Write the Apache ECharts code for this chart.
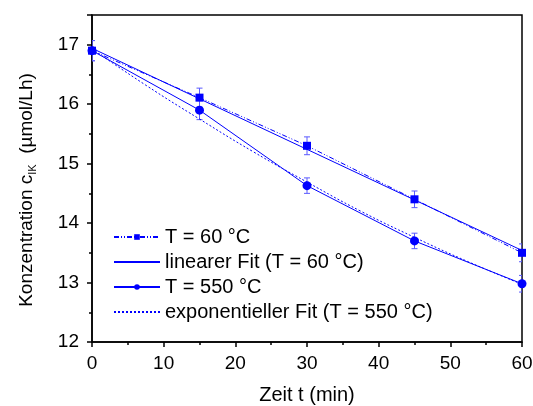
<!DOCTYPE html>
<html><head><meta charset="utf-8">
<script src="https://cdn.jsdelivr.net/npm/echarts@6/dist/echarts.min.js"></script>
<style>html,body{margin:0;padding:0;background:#fff}#c{width:533px;height:406px}</style>
</head><body><div id="c"></div>
<script>
const xTimes = [0, 15, 30, 45, 60];
const t60 = [16.90, 16.11, 15.30, 14.40, 13.50];
const t60Err = [0.17, 0.16, 0.15, 0.14, 0.15];
const t550 = [16.90, 15.90, 14.63, 13.70, 12.98];
const t550Err = [0.17, 0.16, 0.13, 0.13, 0.14];
const linFitX = [0, 60];
const linFitY = [16.94, 13.54];
const expFitX = [0, 7.5, 15, 22.5, 30, 37.5, 45, 52.5, 60];
const expFitY = [16.93, 16.32, 15.75, 15.20, 14.69, 14.20, 13.76, 13.35, 12.97];
const xTicks = [0, 10, 20, 30, 40, 50, 60];
const yTicks = [12, 13, 14, 15, 16, 17];

const blue = '#0000ff';
const errBlue = '#5a5aff';
const font = 'Arial, "Liberation Sans", sans-serif';
const zip = (a, b) => a.map((v, i) => [v, b[i]]);
const errData = (ys, es) => xTimes.map((x, i) => [x, ys[i] - es[i], ys[i] + es[i]]);

function errRender(params, api) {
  const x = api.value(0), lo = api.value(1), hi = api.value(2);
  const p1 = api.coord([x, lo]), p2 = api.coord([x, hi]);
  const w = 3;
  const st = {stroke: errBlue, lineWidth: 1};
  return {type: 'group', children: [
    {type: 'line', shape: {x1: p1[0], y1: p1[1], x2: p2[0], y2: p2[1]}, style: st},
    {type: 'line', shape: {x1: p1[0]-w, y1: p1[1], x2: p1[0]+w, y2: p1[1]}, style: st},
    {type: 'line', shape: {x1: p2[0]-w, y1: p2[1], x2: p2[0]+w, y2: p2[1]}, style: st}
  ]};
}

const chart = echarts.init(document.getElementById('c'), null, {renderer: 'canvas'});
chart.setOption({
  animation: false,
  backgroundColor: '#fff',
  grid: {left: 92, right: 11, top: 15, bottom: 64, show: true, borderColor: '#000', borderWidth: 1.5, backgroundColor: 'transparent',
    containLabel: false, outerBoundsMode: 'none'},
  graphic: [{
    type: 'text', x: 27, y: 190, rotation: Math.PI / 2,
    style: {
      text: '{a|Konzentration c}{s|IK}{a|  (µmol/Lh)}',
      align: 'center', verticalAlign: 'middle',
      rich: {a: {fontFamily: font, fontSize: 19, fill: '#000', color: '#000'},
             s: {fontFamily: font, fontSize: 11, fill: '#000', color: '#000', verticalAlign: 'bottom', padding: [12, 0, 0, 0]}}
    }
  }],
  xAxis: {
    type: 'value', min: 0, max: 60, interval: 10,
    name: 'Zeit t (min)', nameLocation: 'middle', nameGap: 43,
    nameTextStyle: {fontFamily: font, fontSize: 20, color: '#000'},
    axisLine: {show: true, onZero: false, lineStyle: {color: '#000', width: 1.5}},
    axisTick: {show: true, inside: false, length: 5, lineStyle: {color: '#000', width: 1.5}},
    minorTick: {show: true, splitNumber: 2, length: 3, lineStyle: {color: '#000', width: 1.5}},
    axisLabel: {fontFamily: font, fontSize: 19, color: '#000', margin: 12},
    splitLine: {show: false}
  },
  yAxis: {
    type: 'value', min: 12, max: 17.5, interval: 1,
    axisLine: {show: true, onZero: false, lineStyle: {color: '#000', width: 1.5}},
    axisTick: {show: true, inside: false, length: 5, lineStyle: {color: '#000', width: 1.5}},
    minorTick: {show: true, splitNumber: 2, length: 3, lineStyle: {color: '#000', width: 1.5}},
    axisLabel: {fontFamily: font, fontSize: 19, color: '#000', margin: 13, showMaxLabel: false,
      formatter: v => (yTicks.indexOf(v) >= 0 ? String(v) : '')},
    splitLine: {show: false}
  },
  legend: {
    orient: 'vertical', left: 113, top: 227, itemGap: 5, itemWidth: 46, itemHeight: 7, padding: 0,
    textStyle: {fontFamily: font, fontSize: 20, color: '#000'},
    data: [
      {name: 'T = 60 °C'},
      {name: 'linearer Fit (T = 60 °C)', itemStyle: {opacity: 0}},
      {name: 'T = 550 °C'},
      {name: 'exponentieller Fit (T = 550 °C)', itemStyle: {opacity: 0}}
    ]
  },
  series: [
    {type: 'custom', name: 'err60', renderItem: errRender, data: errData(t60, t60Err), clip: true, z: 1},
    {type: 'custom', name: 'err550', renderItem: errRender, data: errData(t550, t550Err), clip: true, z: 1},
    {type: 'line', name: 'T = 60 °C', data: zip(xTimes, t60), clip: true, symbol: 'rect', symbolSize: 8,
      itemStyle: {color: blue}, lineStyle: {color: blue, width: 1, type: [5, 2, 1, 2, 1, 2]}, z: 3},
    {type: 'line', name: 'linearer Fit (T = 60 °C)', data: zip(linFitX, linFitY), clip: true, symbol: 'none',
      itemStyle: {color: blue}, lineStyle: {color: blue, width: 1}, z: 2},
    {type: 'line', name: 'T = 550 °C', data: zip(xTimes, t550), clip: true, symbol: 'circle', symbolSize: 9,
      itemStyle: {color: blue}, lineStyle: {color: blue, width: 1}, z: 3},
    {type: 'line', name: 'exponentieller Fit (T = 550 °C)', data: zip(expFitX, expFitY), clip: true, symbol: 'none', smooth: true,
      itemStyle: {color: blue}, lineStyle: {color: blue, width: 1, type: [2, 2]}, z: 2}
  ]
});
</script></body></html>
